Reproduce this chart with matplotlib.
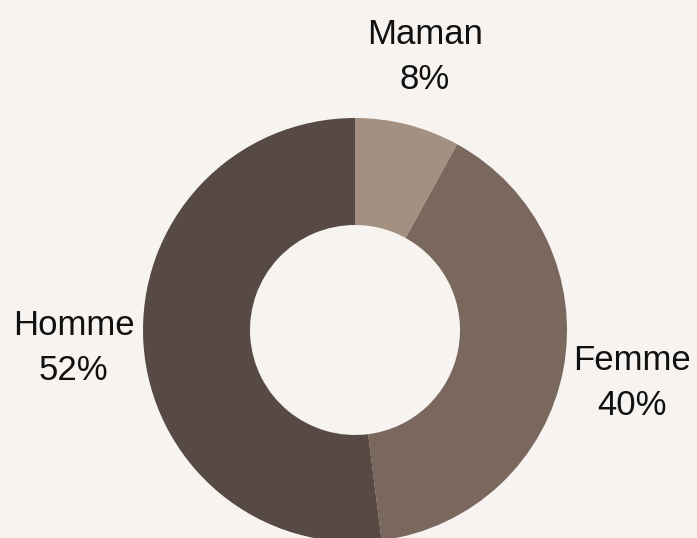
import matplotlib.pyplot as plt

labels = ["Maman", "Femme", "Homme"]
values = [8, 40, 52]
colors = ["#A39080", "#7A685E", "#574943"]

bg = "#F7F3F0"
plt.rcParams['font.family'] = ['Liberation Sans', 'DejaVu Sans']

fig = plt.figure(figsize=(6.97, 5.38), dpi=100, facecolor=bg)
ax = fig.add_axes([0, 0, 1, 1])
ax.set_facecolor(bg)
ax.set_xlim(0, 697)
ax.set_ylim(0, 538)

texts = [f"{l}\n{v}%" for l, v in zip(labels, values)]
ax.pie(values, labels=texts, colors=colors, startangle=90, counterclock=False,
       center=(355, 208), radius=212, labeldistance=1.33, frame=True,
       wedgeprops=dict(width=107, linewidth=0),
       textprops=dict(fontsize=25, ha="center", va="center", linespacing=1.45, color="#111111"))
ax.set_xlim(0, 697)
ax.set_ylim(0, 538)
ax.axis("off")

fig.savefig("out.png", dpi=100, facecolor=bg)
